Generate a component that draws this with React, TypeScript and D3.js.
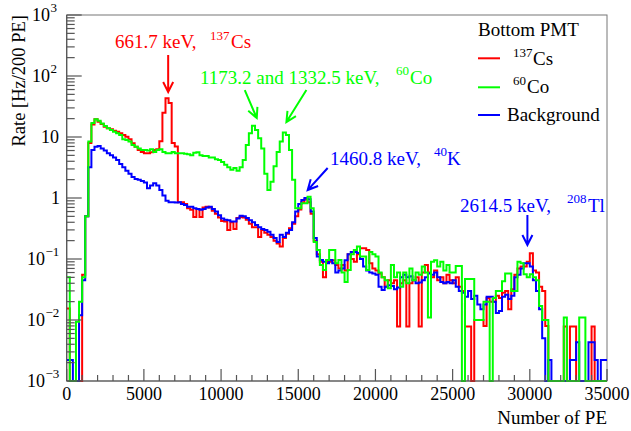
import React from 'react';
import * as d3 from 'd3';

// Histogram binning: 200 PE per bin, 0 .. 35000 PE
const BIN_WIDTH = 200;
const X_MAX = 35000;

// Rate per bin [Hz / 200 PE]
const cs137: number[] = [
  0.0155, 0, 0, 0, 0, 0.055, 0.5, 8, 16, 19.5,
  17.8, 16.3, 14.7, 13.9, 13.4, 12.7, 12.2, 11.5, 10.8, 10.1,
  9.2, 7.9, 6.9, 6.1, 5.7, 5.4, 5.4, 5.6, 6.1, 6.3,
  8.5, 25, 43, 36, 8, 7, 0.85, 0.85, 0.8, 0.68,
  0.64, 0.49, 0.66, 0.49, 0.7, 0.72, 0.7, 0.62, 0.55, 0.48,
  0.42, 0.41, 0.3, 0.4, 0.31, 0.47, 0.49, 0.48, 0.44, 0.38,
  0.33, 0.33, 0.23, 0.3, 0.27, 0.25, 0.23, 0.2, 0.18, 0.16,
  0.22, 0.26, 0.32, 0.38, 0.5, 0.65, 0.85, 0.95, 0.85, 0.55,
  0.2, 0.12, 0.09, 0.05, 0.09, 0.09, 0.095, 0.08, 0.07, 0.08,
  0.065, 0.12, 0.1, 0.09, 0.12, 0.15, 0.15, 0.14, 0.085, 0.07,
  0.065, 0.058, 0.05, 0.035, 0.045, 0.04, 0.045, 0.0078, 0.04, 0.045,
  0.0078, 0.04, 0.045, 0.05, 0.0078, 0.06, 0.08, 0.06, 0.05, 0.065,
  0.045, 0.05, 0.04, 0.055, 0.045, 0.04, 0.05, 0.035, 0.03, 0.0078,
  0.0078, 0, 0.01, 0.01, 0.01, 0.008, 0.023, 0.02, 0.02, 0.025,
  0.023, 0.028, 0.03, 0.015, 0.032, 0.055, 0.07, 0.075, 0.075, 0.09,
  0.124, 0.065, 0.06, 0.035, 0.03, 0.008, 0, 0, 0, 0,
  0, 0.0078, 0, 0.0078, 0.0078, 0, 0, 0, 0, 0,
  0.0078, 0, 0, 0, 0,
];

const co60: number[] = [
  0.05, 0, 0, 0.0094, 0.02, 0.05, 0.5, 8.4, 17, 19.5,
  18.5, 16.7, 15.1, 13.9, 13, 12.2, 11.5, 10.8, 9.2, 8.9,
  8.4, 7.4, 6.9, 6.5, 6.1, 6.1, 6.0, 6.3, 5.7, 6.1,
  6.3, 5.7, 5.4, 5.4, 5.7, 5.4, 5.4, 5.4, 5.3, 5.2,
  5.0, 5.5, 5.6, 5.0, 4.9, 4.9, 4.6, 4.6, 4.3, 4.2,
  3.9, 3.5, 3.2, 2.9, 3.1, 2.8, 3.2, 4.2, 7.4, 11.5,
  15.3, 13, 9.5, 6.5, 2.5, 1.35, 1.85, 3.3, 5.7, 8.4,
  11.8, 10.8, 6.1, 2.0, 0.68, 0.68, 0.82, 0.82, 1.05, 0.68,
  0.19, 0.14, 0.08, 0.066, 0.096, 0.14, 0.14, 0.085, 0.096, 0.06,
  0.042, 0.066, 0.12, 0.14, 0.16, 0.11, 0.11, 0.066, 0.13, 0.12,
  0.11, 0.06, 0.05, 0.045, 0.033, 0.08, 0.05, 0.06, 0.035, 0.06,
  0.04, 0.07, 0.045, 0.06, 0.055, 0.075, 0.06, 0.011, 0.09, 0.095,
  0.075, 0.09, 0.065, 0.08, 0.06, 0.06, 0.077, 0.077, 0, 0.047,
  0.047, 0.047, 0.01, 0.01, 0.01, 0.02, 0.02, 0, 0.023, 0.03,
  0.03, 0.043, 0.058, 0.058, 0.03, 0.03, 0.09, 0.085, 0.056, 0.05,
  0.056, 0.05, 0.045, 0.017, 0.01, 0.01, 0, 0, 0, 0,
  0, 0.011, 0, 0, 0, 0, 0.011, 0.011, 0, 0,
  0, 0, 0, 0, 0,
];

const background: number[] = [
  0.0022, 0.0022, 0, 0, 0.012, 0.045, 0.5, 3.2, 6.1, 6.9,
  7.1, 6.5, 6.0, 5.4, 5.0, 4.6, 4.2, 3.6, 3.2, 2.8,
  2.5, 2.2, 2.05, 2.0, 1.9, 1.8, 1.45, 1.6, 1.75, 1.6,
  1.35, 1.1, 0.9, 0.85, 0.85, 0.84, 0.85, 0.8, 0.77, 0.72,
  0.72, 0.68, 0.66, 0.64, 0.66, 0.7, 0.72, 0.66, 0.6, 0.52,
  0.46, 0.44, 0.43, 0.41, 0.41, 0.46, 0.51, 0.5, 0.47, 0.43,
  0.4, 0.36, 0.33, 0.31, 0.3, 0.28, 0.25, 0.22, 0.19, 0.25,
  0.23, 0.27, 0.3, 0.4, 0.6, 0.8, 0.93, 1.0, 0.95, 0.6,
  0.22, 0.11, 0.096, 0.09, 0.085, 0.096, 0.085, 0.06, 0.065, 0.07,
  0.095, 0.12, 0.13, 0.13, 0.125, 0.1, 0.075, 0.065, 0.06, 0.058,
  0.055, 0.035, 0.031, 0.035, 0.037, 0.036, 0.032, 0.034, 0.05, 0.055,
  0.05, 0.052, 0.045, 0.04, 0.041, 0.045, 0.05, 0.058, 0.055, 0.06,
  0.05, 0.042, 0.04, 0.042, 0.04, 0.045, 0.035, 0.03, 0.028, 0.024,
  0.03, 0.022, 0.025, 0.018, 0.015, 0.018, 0.024, 0.024, 0.02, 0.013,
  0.014, 0.024, 0.026, 0.022, 0.025, 0.05, 0.055, 0.07, 0.085, 0.085,
  0.075, 0.045, 0.03, 0.015, 0.005, 0, 0.0022, 0, 0, 0,
  0, 0, 0, 0.0022, 0.0022, 0.0043, 0, 0, 0, 0.0043,
  0.0043, 0.0022, 0, 0.0022, 0.0022,
];

const xMajorTicks = [0, 5000, 10000, 15000, 20000, 25000, 30000, 35000];
const yDecades = [-3, -2, -1, 0, 1, 2, 3];

const legendTitle = 'Bottom PMT';

const FONT = "'Liberation Serif', 'DejaVu Serif', 'Times New Roman', serif";
const RED = '#ff0000';
const GREEN = '#00ff00';
const BLUE = '#0000ff';
const AXIS = '#555555';

const W = 631;
const H = 431;
const plot = { left: 66.7, right: 607, top: 15, bottom: 381 };

const x = d3.scaleLinear().domain([0, X_MAX]).range([plot.left, plot.right]);
const y = d3.scaleLog().domain([1e-3, 1e3]).range([plot.bottom, plot.top]).clamp(true);

function stepPath(values: number[]): string {
  let d = '';
  values.forEach((v, i) => {
    const x0 = x(i * BIN_WIDTH);
    const x1 = x((i + 1) * BIN_WIDTH);
    const yy = v > 0 ? y(v) : plot.bottom;
    d += i === 0 ? `M${x0},${yy}` : `V${yy}`;
    d += `H${x1}`;
  });
  return d;
}

// Arrow in data coordinates (PE, rate), open V head at the tip
function arrow(pe1: number, r1: number, pe2: number, r2: number): string {
  const x1 = x(pe1), y1 = y(r1), x2 = x(pe2), y2 = y(r2);
  const a = Math.atan2(y2 - y1, x2 - x1);
  const len = 10, half = 5;
  const bx = x2 - len * Math.cos(a), by = y2 - len * Math.sin(a);
  const px = -Math.sin(a) * half, py = Math.cos(a) * half;
  return `M${x1},${y1}L${x2},${y2}M${bx + px},${by + py}L${x2},${y2}L${bx - px},${by - py}`;
}

export default function App() {
  const xMinor = d3.range(0, X_MAX + 1, 1000);
  const yMinor: number[] = [];
  for (let n = -3; n < 3; n++) for (let k = 2; k <= 9; k++) yMinor.push(k * Math.pow(10, n));

  return (
    <svg
      width={W}
      height={H}
      viewBox={`0 0 ${W} ${H}`}
      style={{ position: 'absolute', left: 0, top: 0, background: '#fff', fontFamily: FONT }}
    >
      <defs>
        <clipPath id="plotClip">
          <rect x={plot.left} y={plot.top - 1} width={plot.right - plot.left} height={plot.bottom - plot.top + 2} />
        </clipPath>
      </defs>

      {/* frame */}
      <rect
        x={plot.left}
        y={plot.top}
        width={plot.right - plot.left}
        height={plot.bottom - plot.top}
        fill="none"
        stroke="#777"
        strokeWidth={1}
      />

      {/* spectra */}
      <g clipPath="url(#plotClip)" fill="none" strokeWidth={2} strokeLinejoin="miter">
        <path d={stepPath(cs137)} stroke={RED} />
        <path d={stepPath(background)} stroke={BLUE} />
        <path d={stepPath(co60)} stroke={GREEN} />
      </g>

      {/* axes lines */}
      <line x1={plot.left} x2={plot.left} y1={plot.top} y2={plot.bottom} stroke={AXIS} strokeWidth={1.2} />
      <line x1={plot.left} x2={plot.right} y1={plot.bottom} y2={plot.bottom} stroke={AXIS} strokeWidth={1.2} />

      {/* x ticks */}
      {xMinor.map((t) => {
        const major = t % 5000 === 0;
        return (
          <line
            key={`xt${t}`}
            x1={x(t)}
            x2={x(t)}
            y1={plot.bottom}
            y2={plot.bottom - (major ? 12 : 6)}
            stroke={AXIS}
            strokeWidth={1.2}
          />
        );
      })}
      {xMajorTicks.map((t) => (
        <text key={`xl${t}`} x={x(t)} y={400} fontSize={18} textAnchor="middle" fill="#000" style={{ fontFamily: FONT }}>
          {t}
        </text>
      ))}

      {/* y ticks */}
      {yMinor.map((v, i) => (
        <line key={`ym${i}`} x1={plot.left} x2={plot.left + 8} y1={y(v)} y2={y(v)} stroke={AXIS} strokeWidth={1.2} />
      ))}
      {yDecades.map((n) => (
        <line
          key={`yM${n}`}
          x1={plot.left}
          x2={plot.left + 15}
          y1={y(Math.pow(10, n))}
          y2={y(Math.pow(10, n))}
          stroke={AXIS}
          strokeWidth={1.2}
        />
      ))}
      {yDecades.map((n) => {
        const ty = y(Math.pow(10, n)) + 6;
        if (n === 0)
          return (
            <text key={`yl${n}`} x={60} y={ty} fontSize={18} textAnchor="end">
              1
            </text>
          );
        if (n === 1)
          return (
            <text key={`yl${n}`} x={59} y={ty} fontSize={18} textAnchor="end">
              10
            </text>
          );
        const baseEnd = n > 0 ? 50 : 45;
        return (
          <g key={`yl${n}`}>
            <text x={baseEnd} y={ty} fontSize={18} textAnchor="end">
              10
            </text>
            <text x={baseEnd + 0.5} y={ty - 9.5} fontSize={13} textAnchor="start">
              {n < 0 ? `\u2212${-n}` : `${n}`}
            </text>
          </g>
        );
      })}

      {/* axis titles */}
      <text x={607} y={424} fontSize={19} textAnchor="end">
        Number of PE
      </text>
      <text transform="translate(25,15) rotate(-90)" fontSize={18.5} textAnchor="end">
        Rate [Hz/200 PE]
      </text>

      {/* annotations */}
      <g fill="none" strokeWidth={2}>
        <path d={arrow(6573, 221, 6573, 54.7)} stroke={RED} />
        <path d={arrow(11535, 58.9, 12312, 20.5)} stroke={GREEN} />
        <path d={arrow(15527, 58.9, 14233, 17.6)} stroke={GREEN} />
        <path d={arrow(16905, 3.1, 15611, 1.35)} stroke={BLUE} />
        <path d={arrow(29844, 0.526, 29844, 0.17)} stroke={BLUE} />
      </g>

      <g fontSize={19}>
        <text x={115} y={48} fill={RED}>661.7 keV,</text>
        <text x={210} y={40} fill={RED} fontSize={13}>137</text>
        <text x={231} y={48} fill={RED}>Cs</text>

        <text x={200} y={84} fill={GREEN}>1173.2 and 1332.5 keV,</text>
        <text x={396} y={75} fill={GREEN} fontSize={13}>60</text>
        <text x={410} y={84} fill={GREEN}>Co</text>

        <text x={330} y={165} fill={BLUE}>1460.8 keV,</text>
        <text x={434} y={156} fill={BLUE} fontSize={13}>40</text>
        <text x={447} y={165} fill={BLUE}>K</text>

        <text x={460} y={212} fill={BLUE}>2614.5 keV,</text>
        <text x={567} y={203} fill={BLUE} fontSize={13}>208</text>
        <text x={588} y={212} fill={BLUE}>Tl</text>
      </g>

      {/* legend */}
      <g fontSize={19}>
        <text x={478} y={36}>{legendTitle}</text>
        <line x1={478} x2={500} y1={58.3} y2={58.3} stroke={RED} strokeWidth={2} />
        <text x={513} y={57} fontSize={13}>137</text>
        <text x={533} y={65}>Cs</text>
        <line x1={478} x2={500} y1={87.3} y2={87.3} stroke={GREEN} strokeWidth={2} />
        <text x={513} y={85} fontSize={13}>60</text>
        <text x={527} y={93}>Co</text>
        <line x1={478} x2={500} y1={115} y2={115} stroke={BLUE} strokeWidth={2} />
        <text x={507} y={121}>Background</text>
      </g>
    </svg>
  );
}
